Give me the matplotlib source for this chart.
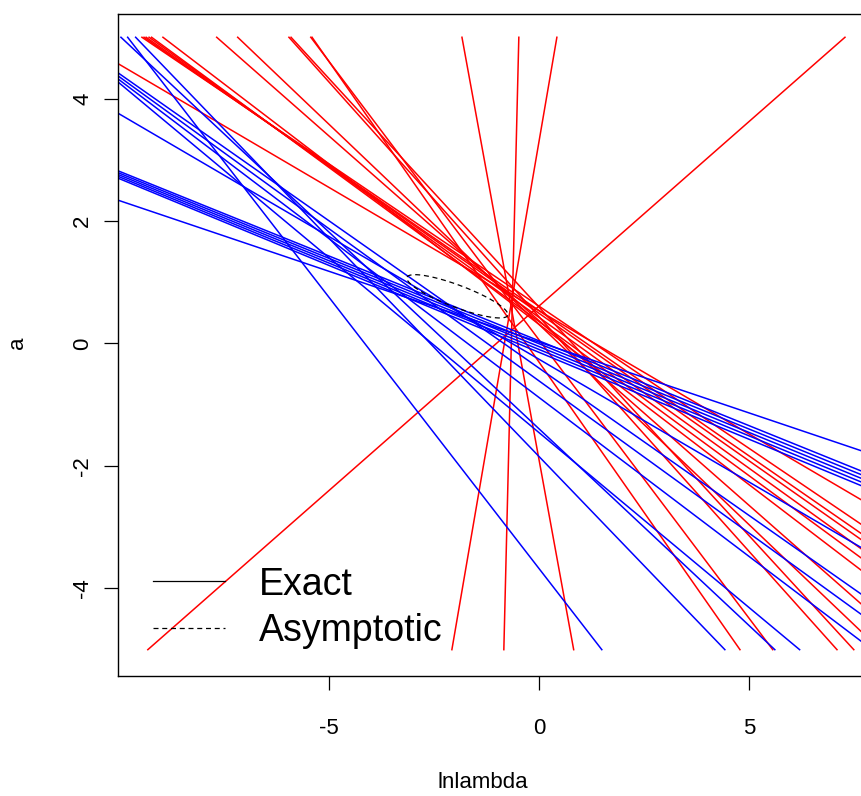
import numpy as np
import matplotlib
matplotlib.use("Agg")
import matplotlib.pyplot as plt

plt.rcParams['font.family'] = ['Liberation Sans', 'DejaVu Sans']
plt.rcParams['axes.unicode_minus'] = False

# exact interval lines, red set: (lnlambda, a) start -> end
red_x0 = [-10.02, -9.45, -9.40, -9.35, -9.28, -9.22, -8.95, -7.67, -7.17, -5.95, -5.90, -5.43, -5.40,
          -9.31, -0.476, -1.83, 0.43]
red_a0 = [4.57, 5, 5, 5, 5, 5, 5, 5, 5, 5, 5, 5, 5,
          -5, 5, 5, 5]
red_x1 = [7.67, 7.67, 7.67, 7.67, 7.67, 7.67, 7.67, 7.67, 7.67, 7.10, 7.50, 5.57, 4.79,
          7.29, -0.833, 0.83, -2.07]
red_a1 = [-2.55, -2.95, -3.10, -3.20, -3.35, -3.50, -3.70, -4.25, -4.70, -5, -5, -5, -5,
          5, -5, -5, -5]

# blue set
blue_x0 = [-10.02, -10.02, -10.02, -10.02, -10.02, -10.02, -10.02,
           -10.02, -10.02, -10.02, -10.02, -9.95, -9.79, -9.60]
blue_a0 = [2.34, 2.82, 2.79, 2.76, 2.73, 2.70, 3.76,
           4.42, 4.37, 4.32, 4.27, 5, 5, 5]
blue_x1 = [7.67, 7.67, 7.67, 7.67, 7.67, 7.67, 7.67,
           7.67, 7.67, 7.67, 6.21, 5.62, 1.50, 4.43]
blue_a1 = [-1.75, -2.08, -2.14, -2.20, -2.26, -2.32, -3.33,
           -4.09, -4.42, -4.86, -5, -5, -5, -5]

# asymptotic region: centre and half axes
ell_center = (-1.94, 0.77)
ell_u = (1.20, -0.31)
ell_v = (-0.09, -0.17)

W, H = 861, 796
fig = plt.figure(figsize=(W / 100, H / 100), dpi=100)
ax = fig.add_axes([118 / W, 120 / H, 761 / W, 662 / H])

for i in range(len(red_x0)):
    ax.plot([red_x0[i], red_x1[i]], [red_a0[i], red_a1[i]], color='#ff0000', lw=1.1)
for i in range(len(blue_x0)):
    ax.plot([blue_x0[i], blue_x1[i]], [blue_a0[i], blue_a1[i]], color='#0000ff', lw=1.1)

t = np.linspace(0, 2 * np.pi, 200)
ex = ell_center[0] + ell_u[0] * np.cos(t) + ell_v[0] * np.sin(t)
ey = ell_center[1] + ell_u[1] * np.cos(t) + ell_v[1] * np.sin(t)
ax.plot(ex, ey, color='k', lw=0.9, dashes=(4, 3))

ax.set_xlim(-10.02, 8.10)
ax.set_ylim(-5.43, 5.38)
ax.set_xticks([-5, 0, 5])
ax.set_yticks([-4, -2, 0, 2, 4])
ax.set_yticklabels(['-4', '-2', '0', '2', '4'], rotation=90, va='center')
ax.tick_params(axis='both', length=10, width=0.9, labelsize=16)
ax.tick_params(axis='x', pad=20)
ax.tick_params(axis='y', pad=8)
for s in ax.spines.values():
    s.set_linewidth(1.0)

# legend drawn by hand, no frame
fig.add_artist(plt.Line2D([153 / W, 225 / W], [1 - 581 / H] * 2, color='k', lw=0.9))
fig.add_artist(plt.Line2D([153 / W, 225 / W], [1 - 628 / H] * 2, color='k', lw=0.9, dashes=(4, 3)))
fig.text(259 / W, 1 - 585 / H, 'Exact', fontsize=27, va='center')
fig.text(259 / W, 1 - 631 / H, 'Asymptotic', fontsize=27, va='center')

fig.text(483 / W, 3 / H, 'lnlambda', fontsize=16, ha='center', va='bottom')
fig.text(18 / W, 1 - 343 / H, 'a', fontsize=16, ha='center', va='center', rotation=90)

fig.savefig('out.png', dpi=100)
